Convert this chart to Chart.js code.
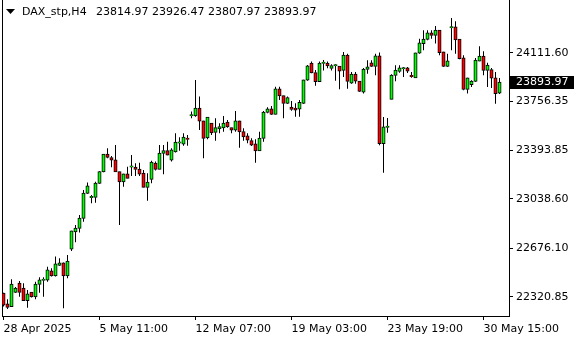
<!DOCTYPE html>
<html>
<head>
<meta charset="utf-8">
<script src="https://cdn.jsdelivr.net/npm/chart.js@4.4.1/dist/chart.umd.min.js"></script>
<style>
  html, body { margin: 0; padding: 0; background: #fff; }
  canvas { display: block; }
</style>
</head>
<body>
<canvas id="chart" width="580" height="340"></canvas>
<script>
const symbolTitle = 'DAX_stp,H4';

// H4 candles, oldest first
const opens = [22346, 22267, 22248, 22353, 22419, 22383, 22292, 22353, 22321, 22412,
  22441, 22444, 22510, 22475, 22551, 22568, 22475, 22671, 22798, 22823,
  22896, 23080, 23049, 23050, 23153, 23238, 23366, 23341, 23324, 23238,
  23165, 23221, 23273, 23271, 23256, 23226, 23124, 23182, 23300, 23256,
  23373, 23392, 23324, 23385, 23449, 23442, 23480, 23648, 23649, 23704,
  23610, 23488, 23593, 23527, 23554, 23561, 23601, 23561, 23544, 23610,
  23532, 23500, 23466, 23442, 23392, 23483, 23674, 23698, 23660, 23845,
  23796, 23740, 23711, 23704, 23698, 23740, 23911, 24034, 23965, 23899,
  24033, 24034, 23997, 24015, 24012, 23982, 24093, 23889, 23953, 23902,
  23823, 23990, 24036, 24012, 24087, 23444, 23565, 23770, 23946, 23975,
  23993, 23999, 23939, 23928, 24109, 24178, 24210, 24256, 24239, 24276,
  24117, 24012, 24294, 24300, 24210, 24073, 23843, 23877, 23902, 24051,
  24085, 23982, 23987, 23926, 23814.97];
const highs = [22350, 22302, 22449, 22392, 22436, 22419, 22370, 22356, 22431, 22463,
  22463, 22541, 22529, 22615, 22603, 22571, 22627, 22805, 22847, 22921,
  23104, 23158, 23067, 23165, 23243, 23368, 23410, 23354, 23434, 23240,
  23223, 23275, 23361, 23300, 23304, 23251, 23226, 23319, 23312, 23434,
  23434, 23458, 23410, 23520, 23491, 23520, 23508, 23679, 23911, 23789,
  23612, 23639, 23595, 23630, 23594, 23647, 23618, 23563, 23684, 23612,
  23557, 23520, 23483, 23476, 23532, 23684, 23711, 23720, 23862, 23862,
  23798, 23789, 23757, 23740, 23764, 23913, 24021, 24046, 23985, 24046,
  24058, 24046, 24027, 24027, 24014, 24117, 24104, 23970, 23970, 23903,
  23999, 24056, 24056, 24104, 24112, 23640, 23632, 23953, 24019, 24019,
  24007, 24007, 23970, 24111, 24214, 24276, 24276, 24276, 24308, 24278,
  24118, 24104, 24366, 24342, 24211, 24093, 23927, 23909, 24073, 24159,
  24122, 24038, 23999, 23970, 23926.47];
const lows = [22248, 22231, 22245, 22348, 22321, 22289, 22240, 22314, 22302, 22350,
  22321, 22431, 22468, 22468, 22546, 22236, 22456, 22656, 22720, 22791,
  22871, 23075, 23006, 23011, 23148, 23234, 23337, 23271, 23236, 22847,
  23128, 23188, 23207, 23207, 23207, 23122, 23025, 23153, 23246, 23254,
  23219, 23359, 23312, 23378, 23392, 23429, 23429, 23630, 23642, 23544,
  23337, 23476, 23508, 23466, 23520, 23532, 23561, 23520, 23532, 23414,
  23466, 23447, 23427, 23304, 23390, 23458, 23667, 23654, 23658, 23764,
  23630, 23735, 23686, 23642, 23642, 23735, 23906, 23960, 23869, 23897,
  23980, 23997, 23980, 23906, 23843, 23933, 23847, 23884, 23884, 23823,
  23811, 23957, 24007, 23946, 23432, 23231, 23524, 23768, 23902, 23965,
  23933, 23963, 23928, 23926, 24104, 24129, 24203, 24214, 24178, 24093,
  24007, 24007, 24129, 24104, 24063, 23836, 23811, 23860, 23897, 24049,
  23946, 23860, 23853, 23737, 23807.97];
const closes = [22260, 22243, 22412, 22383, 22353, 22292, 22341, 22321, 22412, 22444,
  22445, 22517, 22475, 22561, 22568, 22475, 22581, 22803, 22823, 22896,
  23080, 23133, 23052, 23153, 23238, 23366, 23344, 23324, 23238, 23165,
  23221, 23190, 23276, 23256, 23221, 23124, 23160, 23307, 23256, 23373,
  23392, 23361, 23398, 23454, 23452, 23491, 23477, 23651, 23704, 23610,
  23483, 23637, 23524, 23561, 23568, 23594, 23568, 23544, 23610, 23532,
  23495, 23471, 23434, 23392, 23483, 23674, 23698, 23660, 23845, 23796,
  23740, 23781, 23696, 23691, 23745, 23911, 24014, 23965, 23899, 24034,
  24036, 24016, 24016, 24017, 23977, 24093, 23902, 23953, 23904, 23828,
  23990, 24007, 24012, 24087, 23444, 23566, 23568, 23946, 23982, 23999,
  23995, 23977, 23937, 24109, 24183, 24210, 24256, 24239, 24276, 24112,
  24012, 24051, 24296, 24207, 24068, 23843, 23926, 23902, 24056, 24085,
  23982, 24019, 23926, 23811, 23893.97];

// axis labels
const xTickIndex = [0, 24, 48, 72, 96, 120];
const xTickLabels = ['28 Apr 2025', '5 May 11:00', '12 May 07:00', '19 May 03:00', '23 May 19:00', '30 May 15:00'];
const yTicks = [24111.60, 23756.35, 23393.85, 23038.60, 22676.10, 22320.85];

const FONT = { family: 'DejaVu Sans', size: 11 };
const bullColour = '#00ff00';
const bearColour = '#ff0000';

// body plus upper and lower shadow, so the shadows never cross the body fill
const bodies = [], upperWicks = [], lowerWicks = [], bodyColours = [];
for (let i = 0; i < closes.length; i++) {
  const top = Math.max(opens[i], closes[i]);
  const bottom = Math.min(opens[i], closes[i]);
  bodies.push({ x: i, y: [bottom, top] });
  upperWicks.push({ x: i, y: [top, highs[i]] });
  lowerWicks.push({ x: i, y: [lows[i], bottom] });
  bodyColours.push(closes[i] >= opens[i] ? bullColour : bearColour);
}
const last = closes.length - 1;

// axis boxes take no extra room for their end labels
const noPad = s => { s.paddingTop = 0; s.paddingBottom = 0; s.paddingLeft = 0; s.paddingRight = 0; };

const wickSet = data => ({
  data,
  backgroundColor: '#000',
  borderWidth: 0,
  inflateAmount: 0,
  barThickness: 1,
  grouped: false
});

/* left frame line, header text and the last price box */
const terminalDecor = {
  id: 'terminalDecor',
  beforeDatasetsDraw(chart) {
    const { ctx, chartArea: a } = chart;
    ctx.save();
    ctx.strokeStyle = '#000';
    ctx.lineWidth = 1;
    ctx.beginPath();
    ctx.moveTo(a.left + 0.5, a.top);
    ctx.lineTo(a.left + 0.5, a.bottom);
    ctx.stroke();
    ctx.restore();
  },
  afterDraw(chart) {
    const { ctx, scales } = chart;
    ctx.save();
    ctx.font = FONT.size + 'px "' + FONT.family + '"';
    ctx.textBaseline = 'middle';

    // header
    ctx.fillStyle = '#000';
    ctx.beginPath();
    ctx.moveTo(6, 9);
    ctx.lineTo(15, 9);
    ctx.lineTo(10.5, 14);
    ctx.closePath();
    ctx.fill();
    ctx.fillText(symbolTitle, 22, 12);
    const ohlc = [opens[last], highs[last], lows[last], closes[last]].map(v => v.toFixed(2)).join(' ');
    ctx.fillText(ohlc, 96, 12);

    // last price
    const py = scales.y.getPixelForValue(closes[last]);
    ctx.fillRect(510, Math.round(py - 6.5), 64, 13);
    ctx.fillStyle = '#fff';
    ctx.fillText(closes[last].toFixed(2), 516, py);
    ctx.restore();
  }
};

new Chart(document.getElementById('chart'), {
  type: 'bar',
  data: {
    datasets: [
      {
        label: 'body',
        data: bodies,
        backgroundColor: bodyColours,
        borderColor: '#000',
        borderWidth: 1,
        borderSkipped: false,
        inflateAmount: 0.5,
        barThickness: 3,
        minBarLength: 1,
        grouped: false
      },
      wickSet(upperWicks),
      wickSet(lowerWicks)
    ]
  },
  options: {
    responsive: false,
    animation: false,
    layout: { padding: { left: 2, top: 0, right: 0, bottom: 0 } },
    plugins: {
      legend: { display: false },
      tooltip: { enabled: false }
    },
    scales: {
      x: {
        type: 'linear',
        position: 'bottom',
        offset: false,
        min: -0.375,
        max: 126.375,
        afterFit: s => { s.height = 24; noPad(s); },
        afterBuildTicks: s => { s.ticks = xTickIndex.map(v => ({ value: v })); },
        grid: { offset: false, drawOnChartArea: false, drawTicks: true, tickLength: 4, color: '#000' },
        border: { display: true, color: '#000', width: 1 },
        ticks: {
          align: 'start',
          padding: 3,
          color: '#000',
          font: FONT,
          maxRotation: 0,
          autoSkip: false,
          callback: v => xTickLabels[xTickIndex.indexOf(v)]
        }
      },
      y: {
        position: 'right',
        min: 22179,
        max: 24498,
        afterFit: s => { s.width = 71; noPad(s); },
        afterBuildTicks: s => { s.ticks = yTicks.map(v => ({ value: v })); },
        grid: { drawOnChartArea: false, drawTicks: true, tickLength: 4, color: '#000' },
        border: { display: true, color: '#000', width: 1 },
        ticks: {
          padding: 3,
          color: '#000',
          font: FONT,
          autoSkip: false,
          callback: v => v.toFixed(2)
        }
      }
    }
  },
  plugins: [terminalDecor]
});
</script>
</body>
</html>
